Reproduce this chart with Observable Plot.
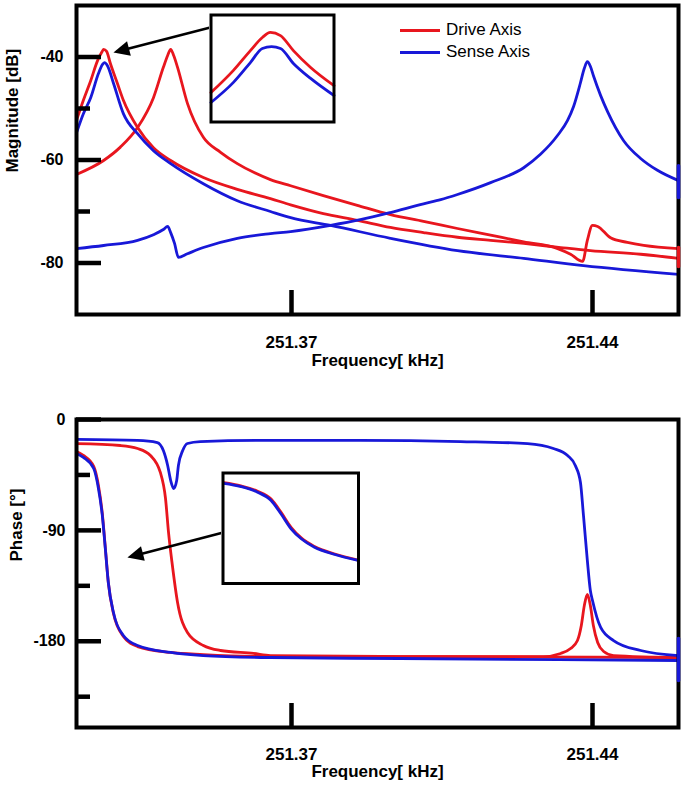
<!DOCTYPE html>
<html><head><meta charset="utf-8">
<script src="https://cdn.jsdelivr.net/npm/d3@7"></script>
<script src="https://cdn.jsdelivr.net/npm/@observablehq/plot@0.6"></script>
<style>
html,body{margin:0;padding:0;background:#fff;}
body{width:685px;height:792px;overflow:hidden;font-family:"Liberation Sans",Arial,Helvetica,sans-serif;}
.panel{position:relative;width:685px;}
.panel svg{display:block;}
.inset{position:absolute;}
.legend{position:absolute;left:400px;top:19px;font-size:17px;color:#000;line-height:22px;}
.legend .row{display:flex;align-items:center;height:22px;}
.legend .sw{width:40px;height:3px;margin-right:6px;}
</style></head><body>
<div id="top" class="panel"></div>
<div id="bottom" class="panel"></div>
<script>
// ---------------- data ----------------
const xDomain = [251.32, 251.46];
const magDomain = [-90, -30];
const phaseDomain = [-250, 0];
const xTicks = [251.37, 251.44];
const magMajor = [-80, -60, -40];
const magMinor = [-70, -50];
const phaseMajor = [-180, -90, 0];
const phaseMinor = [-225, -135, -45];
const seriesNames = ["Drive Axis", "Sense Axis"];

// magnitude [kHz, dB]
const magDriveMatched = [[251.3200,-52.3],[251.3216,-48.4],[251.3233,-44.6],[251.3249,-40.7],[251.3260,-38.9],[251.3263,-38.5],[251.3270,-38.9],[251.3279,-41.3],[251.3295,-45.1],[251.3309,-48.4],[251.3342,-53.7],[251.3379,-57.6],[251.3419,-60.1],[251.3495,-63.4],[251.3574,-65.7],[251.3651,-67.5],[251.3698,-68.7],[251.3774,-70.4],[251.3853,-71.7],[251.3930,-73.1],[251.4007,-74.1],[251.4086,-75.0],[251.4163,-75.6],[251.4240,-76.2],[251.4326,-77.0],[251.4395,-77.6],[251.4512,-78.3],[251.4600,-79.1]];
const magSenseMatched = [[251.3200,-54.7],[251.3216,-51.0],[251.3233,-47.9],[251.3251,-43.2],[251.3260,-41.5],[251.3265,-41.1],[251.3272,-41.7],[251.3286,-45.1],[251.3309,-51.0],[251.3342,-54.9],[251.3379,-58.2],[251.3419,-60.7],[251.3495,-64.6],[251.3574,-67.9],[251.3651,-70.0],[251.3698,-71.2],[251.3791,-72.7],[251.3930,-75.2],[251.4086,-77.6],[251.4240,-79.1],[251.4379,-80.5],[251.4600,-82.2]];
const magDriveSplit = [[251.3200,-62.8],[251.3263,-60.1],[251.3302,-57.5],[251.3342,-53.7],[251.3379,-47.9],[251.3402,-42.0],[251.3412,-39.7],[251.3419,-38.5],[251.3426,-39.7],[251.3435,-42.0],[251.3458,-49.0],[251.3495,-55.6],[251.3535,-58.5],[251.3574,-60.7],[251.3612,-62.4],[251.3651,-63.8],[251.3698,-65.0],[251.3774,-66.9],[251.3853,-68.8],[251.3930,-70.6],[251.4007,-71.9],[251.4086,-73.3],[251.4163,-74.6],[251.4240,-75.9],[251.4319,-77.2],[251.4349,-78.3],[251.4377,-79.7],[251.4388,-75.6],[251.4400,-72.7],[251.4412,-72.9],[251.4442,-75.1],[251.4481,-76.0],[251.4519,-76.6],[251.4600,-77.2]];
const magSenseSplit = [[251.3200,-77.2],[251.3263,-76.6],[251.3342,-75.6],[251.3379,-74.5],[251.3402,-73.5],[251.3412,-72.9],[251.3419,-74.1],[251.3428,-76.2],[251.3437,-78.9],[251.3458,-78.2],[251.3495,-77.0],[251.3574,-75.2],[251.3651,-74.3],[251.3698,-73.9],[251.3791,-72.7],[251.3860,-71.6],[251.3930,-70.2],[251.4007,-68.5],[251.4047,-67.7],[251.4086,-66.7],[251.4163,-64.4],[251.4240,-61.5],[251.4279,-58.9],[251.4319,-55.2],[251.4342,-52.3],[251.4356,-49.6],[251.4372,-45.0],[251.4381,-42.2],[251.4388,-40.9],[251.4395,-41.8],[251.4402,-43.6],[251.4419,-47.5],[251.4435,-50.6],[251.4472,-56.2],[251.4512,-59.7],[251.4551,-62.0],[251.4600,-64.0]];
// scatter of the last samples at the right edge
const magSenseEdge = [[251.46,-61.1],[251.46,-67.3]];
const magDriveEdge = [[251.46,-77.0],[251.46,-80.7]];

// phase [kHz, deg]
const phaseDriveSplit = [[251.3200,-19.5],[251.3302,-21.1],[251.3342,-23.5],[251.3372,-29.2],[251.3395,-43.0],[251.3407,-64.1],[251.3414,-91.7],[251.3423,-118.5],[251.3435,-148.5],[251.3458,-172.9],[251.3495,-183.4],[251.3535,-187.5],[251.3612,-189.9],[251.3651,-191.6],[251.3953,-192.4],[251.4286,-192.4],[251.4326,-189.9],[251.4349,-185.9],[251.4365,-179.4],[251.4374,-167.2],[251.4381,-151.0],[251.4388,-142.0],[251.4395,-151.0],[251.4402,-167.2],[251.4412,-181.0],[251.4426,-188.3],[251.4449,-191.6],[251.4600,-193.2]];
const phaseSenseSplit = [[251.3200,-16.2],[251.3342,-17.0],[251.3388,-18.7],[251.3402,-25.2],[251.3412,-37.3],[251.3419,-49.5],[251.3426,-56.0],[251.3433,-49.5],[251.3437,-37.3],[251.3447,-25.2],[251.3458,-19.5],[251.3488,-17.9],[251.3628,-17.0],[251.3860,-17.0],[251.4093,-17.9],[251.4249,-19.5],[251.4309,-23.5],[251.4342,-29.2],[251.4360,-37.3],[251.4372,-51.1],[251.4379,-77.9],[251.4388,-114.4],[251.4395,-138.8],[251.4400,-146.9],[251.4419,-168.8],[251.4449,-179.4],[251.4512,-187.5],[251.4600,-191.6]];
const phaseDriveMatched = [[251.3200,-26.0],[251.3216,-29.2],[251.3240,-38.1],[251.3251,-53.6],[251.3260,-76.3],[251.3267,-103.9],[251.3274,-132.3],[251.3286,-157.5],[251.3309,-176.1],[251.3342,-184.3],[251.3419,-189.1],[251.3495,-190.8],[251.3651,-192.4],[251.3953,-192.4],[251.4600,-193.2]];
const phaseSenseMatched = [[251.3200,-27.6],[251.3216,-30.8],[251.3240,-39.8],[251.3251,-56.0],[251.3260,-77.9],[251.3267,-104.7],[251.3274,-132.3],[251.3286,-156.7],[251.3309,-175.3],[251.3342,-183.4],[251.3419,-189.1],[251.3495,-191.6],[251.3651,-193.2],[251.3953,-194.0],[251.4600,-195.6]];
const phaseSenseEdge = [[251.46,-177.8],[251.46,-211.9]];

// insets (magnified views)
const insetMagX = [251.3245, 251.3285];
const insetMagY = [-41.5, -37.5];
const insetMagDrive = [[251.3245,-40.40],[251.32523,-39.57],[251.32578,-38.83],[251.32617,-38.34],[251.32643,-38.15],[251.32676,-38.27],[251.32718,-38.83],[251.32774,-39.46],[251.3285,-40.14]];
const insetMagSense = [[251.3245,-40.77],[251.32523,-40.02],[251.32578,-39.28],[251.32617,-38.75],[251.32647,-38.68],[251.32676,-38.75],[251.32718,-39.31],[251.32774,-39.87],[251.3285,-40.51]];
const insetPhaseX = [251.325, 251.329];
const insetPhaseY = [-170, -50];
const insetPhaseDrive = [[251.32502,-60.5],[251.32553,-64.0],[251.32602,-69.8],[251.32642,-78.3],[251.32671,-92.5],[251.32701,-109.0],[251.32731,-120.5],[251.3277,-129.8],[251.3283,-138.0],[251.32899,-144.6]];
const insetPhaseSense = [[251.32502,-61.2],[251.32553,-64.7],[251.32602,-70.8],[251.32642,-79.9],[251.32671,-94.3],[251.32701,-110.6],[251.32731,-121.4],[251.3277,-130.6],[251.3283,-138.5],[251.32899,-145.0]];

// annotation arrows (from inset box to the magnified peak)
const magArrow = {x1: 251.35111, y1: -34.27, x2: 251.32859, y2: -39.13};
const phaseArrow = {x1: 251.35413, y1: -91.7, x2: 251.33184, y2: -112.0};

// ---------------- drawing ----------------
const W = 685, ML = 76, MR = 7;
const innerW = W - ML - MR;
const RED = "#e8161e", BLUE = "#1818d8";
const FONT = '"Liberation Sans", Arial, Helvetica, sans-serif';
const LW = 2.8;

const headSymbol = {draw(ctx) { ctx.moveTo(0, 0); ctx.lineTo(-7.5, 16); ctx.lineTo(7.5, 16); ctx.closePath(); }};

function arrowMarks(a, sx, sy) {
  const x1 = sx.apply(a.x1), y1 = sy.apply(a.y1), x2 = sx.apply(a.x2), y2 = sy.apply(a.y2);
  const dxs = x2 - x1, dys = y2 - y1, len = Math.hypot(dxs, dys);
  const angle = Math.atan2(dxs, -dys) * 180 / Math.PI;
  const t = 1 - 12 / len;
  const ex = sx.invert(x1 + dxs * t), ey = sy.invert(y1 + dys * t);
  return [
    Plot.link([a], {x1: "x1", y1: "y1", x2: () => ex, y2: () => ey, stroke: "#000", strokeWidth: 2.6}),
    Plot.dot([a], {x: "x2", y: "y2", symbol: headSymbol, r: 8, fill: "#000", stroke: "none", rotate: angle})
  ];
}

const line = (data, color, sw = LW) => Plot.line(data, {x: d => d[0], y: d => d[1], stroke: color, strokeWidth: sw, curve: "monotone-x"});
const edge = (data, color) => Plot.line(data, {x: d => d[0], y: d => d[1], stroke: color, strokeWidth: 3.5});
const boldText = {fontSize: 17, fontWeight: "bold", fill: "#000"};

function panel({height, mt, mb, yDomain, major, minor, series, edges, arrow, ylabel, ylabelDx, ylabelDy, tickPad, xLabDy, titleDy, yFont}) {
  const innerH = height - mt - mb;
  const sx = Plot.scale({x: {domain: xDomain, range: [ML, W - MR]}});
  const sy = Plot.scale({y: {domain: yDomain, range: [height - mb, mt]}});
  return Plot.plot({
    width: W, height, marginLeft: ML, marginRight: MR, marginTop: mt, marginBottom: mb,
    x: {domain: xDomain, axis: null},
    y: {domain: yDomain, axis: null},
    style: {fontFamily: FONT, background: "#fff", overflow: "visible"},
    marks: [
      ...series.map(([d, c]) => line(d, c)),
      Plot.frame({stroke: "#000", strokeWidth: 4}),
      ...edges.map(([d, c]) => edge(d, c)),
      Plot.ruleX(xTicks, {x: d => d, insetTop: innerH - 24, stroke: "#000", strokeWidth: 4.5}),
      Plot.ruleY(major, {y: d => d, insetRight: innerW - 25, stroke: "#000", strokeWidth: 4.5}),
      Plot.ruleY(minor, {y: d => d, insetRight: innerW - 14, stroke: "#000", strokeWidth: 4.5}),
      Plot.text(xTicks, {x: d => d, frameAnchor: "bottom", dy: xLabDy, text: d => d.toFixed(2), ...boldText}),
      Plot.text(major, {y: d => d, frameAnchor: "left", dx: -tickPad, textAnchor: "end", text: d => String(d), ...boldText, fontSize: yFont}),
      Plot.text(["Frequency[ kHz]"], {frameAnchor: "bottom", dy: titleDy, text: d => d, ...boldText}),
      Plot.text([ylabel], {frameAnchor: "left", dx: ylabelDx, dy: ylabelDy, rotate: -90, text: d => d, ...boldText}),
      ...arrowMarks(arrow, sx, sy)
    ]
  });
}

function inset(xd, yd, series, w, h) {
  return Plot.plot({
    width: w, height: h, margin: 1.5,
    x: {domain: xd, axis: null}, y: {domain: yd, axis: null},
    style: {background: "#fff", overflow: "visible"},
    marks: [...series.map(([d, c]) => line(d, c)), Plot.frame({stroke: "#000", strokeWidth: 3})]
  });
}

// top panel
const topDiv = document.getElementById("top");
topDiv.append(panel({
  height: 395, mt: 5, mb: 81, yDomain: magDomain, major: magMajor, minor: magMinor,
  series: [[magDriveMatched, RED], [magDriveSplit, RED], [magSenseMatched, BLUE], [magSenseSplit, BLUE]],
  edges: [[magSenseEdge, BLUE], [magDriveEdge, RED]],
  arrow: magArrow, ylabel: "Magnitude [dB]", ylabelDx: -63.5, ylabelDy: 12.5, tickPad: 13, xLabDy: 33, titleDy: 51.5, yFont: 16
}));
const in1 = inset(insetMagX, insetMagY, [[insetMagDrive, RED], [insetMagSense, BLUE]], 126, 110);
in1.classList.add("inset"); in1.style.left = "209px"; in1.style.top = "13px";
topDiv.append(in1);
const legend = document.createElement("div");
legend.className = "legend";
legend.innerHTML = seriesNames.map((n, i) => `<div class="row"><span class="sw" style="background:${i ? BLUE : RED}"></span><span>${n}</span></div>`).join("");
topDiv.append(legend);

// bottom panel
const botDiv = document.getElementById("bottom");
botDiv.append(panel({
  height: 397, mt: 24, mb: 65, yDomain: phaseDomain, major: phaseMajor, minor: phaseMinor,
  series: [[phaseDriveMatched, RED], [phaseDriveSplit, RED], [phaseSenseMatched, BLUE], [phaseSenseSplit, BLUE]],
  edges: [[phaseSenseEdge, BLUE]],
  arrow: phaseArrow, ylabel: "Phase [°]", ylabelDx: -60, ylabelDy: -12, tickPad: 11, xLabDy: 32, titleDy: 49, yFont: 16
}));
const in2 = inset(insetPhaseX, insetPhaseY, [[insetPhaseDrive, RED], [insetPhaseSense, BLUE]], 138.5, 113.5);
in2.classList.add("inset"); in2.style.left = "220.5px"; in2.style.top = "76px";
botDiv.append(in2);
</script></body></html>
